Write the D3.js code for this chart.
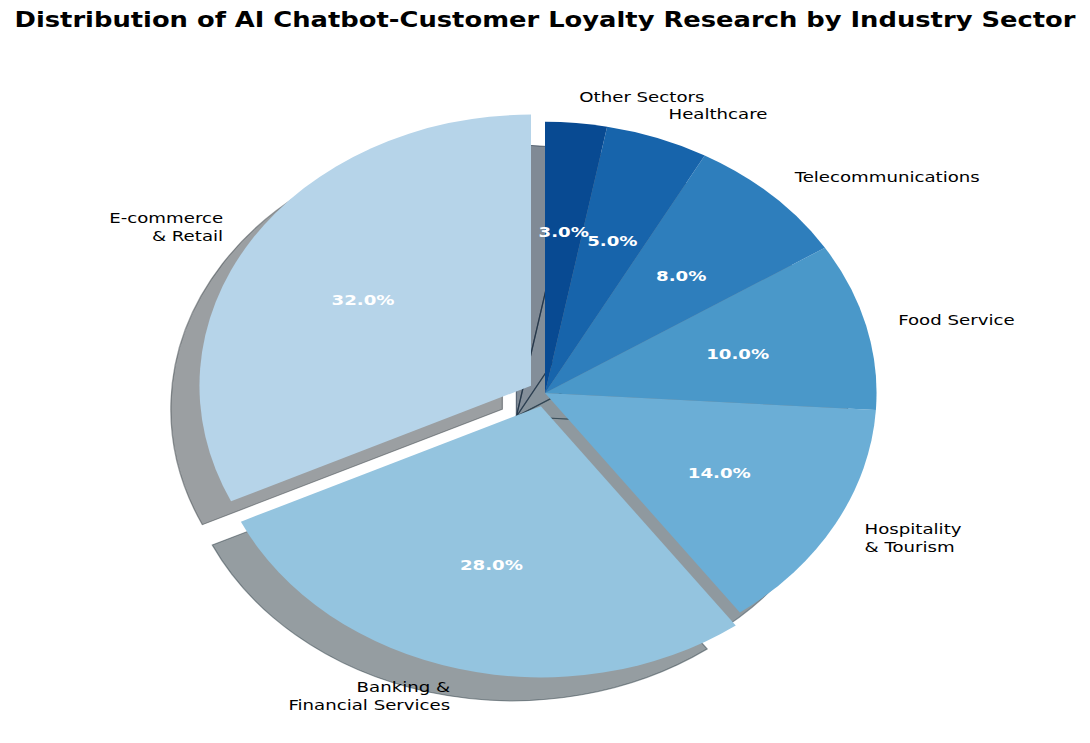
<!DOCTYPE html>
<html>
<head>
<meta charset="utf-8">
<script src="https://cdn.jsdelivr.net/npm/d3@7"></script>
<style>
  body { margin: 0; background: #fff; }
  text { font-family: "DejaVu Sans", sans-serif; }
</style>
</head>
<body>
<svg id="chart"></svg>
<script>
// data
const sectors = [
  "E-commerce\n& Retail",
  "Banking &\nFinancial Services",
  "Hospitality\n& Tourism",
  "Food Service",
  "Telecommunications",
  "Healthcare",
  "Other Sectors"
];
const shares = [32, 28, 14, 10, 8, 5, 3];
const title = "Distribution of AI Chatbot-Customer Loyalty Research by Industry Sector";

// styling
const blues = ["#b6d4e9", "#94c4df", "#6baed6", "#4a98c9", "#2e7ebc", "#1764ab", "#084a92"];
const exploded = ["E-commerce\n& Retail", "Banking &\nFinancial Services"];

// the figure is drawn on a 1200x1000 canvas, then squeezed into the window
const W = 1090, H = 743;
const W0 = 1200, H0 = 1000;
const cx = 600, cy = 529, R = 365;
const shadowDx = -31.5, shadowDy = 31.5;
const fs = 20;
const vshift = 0.42 * fs; // baseline drop to centre a line on its anchor

const svg = d3.select("#chart")
  .attr("width", W)
  .attr("height", H);

const root = svg.append("g")
  .attr("transform", `scale(${W / W0}, ${H / H0})`);

root.append("text")
  .attr("x", cx)
  .attr("y", 36.5)
  .attr("text-anchor", "middle")
  .style("font-size", "28.4px")
  .style("font-weight", "bold")
  .text(title);

const color = d3.scaleOrdinal().domain(sectors).range(blues);

const pie = d3.pie()
  .sort(null)
  .value((d) => d.value)
  .startAngle(0)
  .endAngle(-2 * Math.PI);

const arcs = pie(sectors.map((s, i) => ({ name: s, value: shares[i] })));

const arc = d3.arc().innerRadius(0).outerRadius(R);

const total = d3.sum(shares);

// unit vector towards a slice's middle
const mid = (d) => {
  const a = (d.startAngle + d.endAngle) / 2;
  return [Math.sin(a), -Math.cos(a)];
};
const expl = (d) => (exploded.includes(d.data.name) ? 0.05 : 0);

const plot = root.append("g").attr("transform", `translate(${cx},${cy})`);

// shadows
plot.selectAll("path.shadow")
  .data(arcs)
  .join("path")
  .attr("class", "shadow")
  .attr("d", arc)
  .attr("transform", (d) => {
    const [ux, uy] = mid(d);
    const e = expl(d) * R;
    return `translate(${ux * e + shadowDx},${uy * e + shadowDy})`;
  })
  .each(function (d) {
    const c = d3.rgb(color(d.data.name));
    const dark = d3.rgb(c.r * 0.3, c.g * 0.3, c.b * 0.3).formatHex();
    d3.select(this)
      .attr("fill", dark)
      .attr("fill-opacity", 0.5)
      .attr("stroke", dark)
      .attr("stroke-opacity", 0.5)
      .attr("stroke-width", 1.4);
  });

// wedges
plot.selectAll("path.wedge")
  .data(arcs)
  .join("path")
  .attr("class", "wedge")
  .attr("d", arc)
  .attr("fill", (d) => color(d.data.name))
  .attr("transform", (d) => {
    const [ux, uy] = mid(d);
    const e = expl(d) * R;
    return `translate(${ux * e},${uy * e})`;
  });

// sector labels
const lineH = fs * 1.2;
plot.selectAll("text.label")
  .data(arcs)
  .join("text")
  .attr("class", "label")
  .style("font-size", `${fs}px`)
  .attr("fill", "#000")
  .each(function (d) {
    const [ux, uy] = mid(d);
    const r = (expl(d) + 1.1) * R;
    const x = ux * r, y = uy * r;
    const lines = d.data.name.split("\n");
    const y0 = y - ((lines.length - 1) * lineH) / 2 + vshift;
    const t = d3.select(this).attr("text-anchor", x > 0 ? "start" : "end");
    lines.forEach((l, i) => {
      t.append("tspan").attr("x", x).attr("y", y0 + i * lineH).text(l);
    });
  });

// percentages
plot.selectAll("text.pct")
  .data(arcs)
  .join("text")
  .attr("class", "pct")
  .attr("text-anchor", "middle")
  .style("font-size", `${fs}px`)
  .style("font-weight", "bold")
  .attr("fill", "#fff")
  .attr("x", (d) => mid(d)[0] * (expl(d) + 0.6) * R)
  .attr("y", (d) => mid(d)[1] * (expl(d) + 0.6) * R + vshift)
  .text((d) => `${((d.data.value / total) * 100).toFixed(1)}%`);
</script>
</body>
</html>
